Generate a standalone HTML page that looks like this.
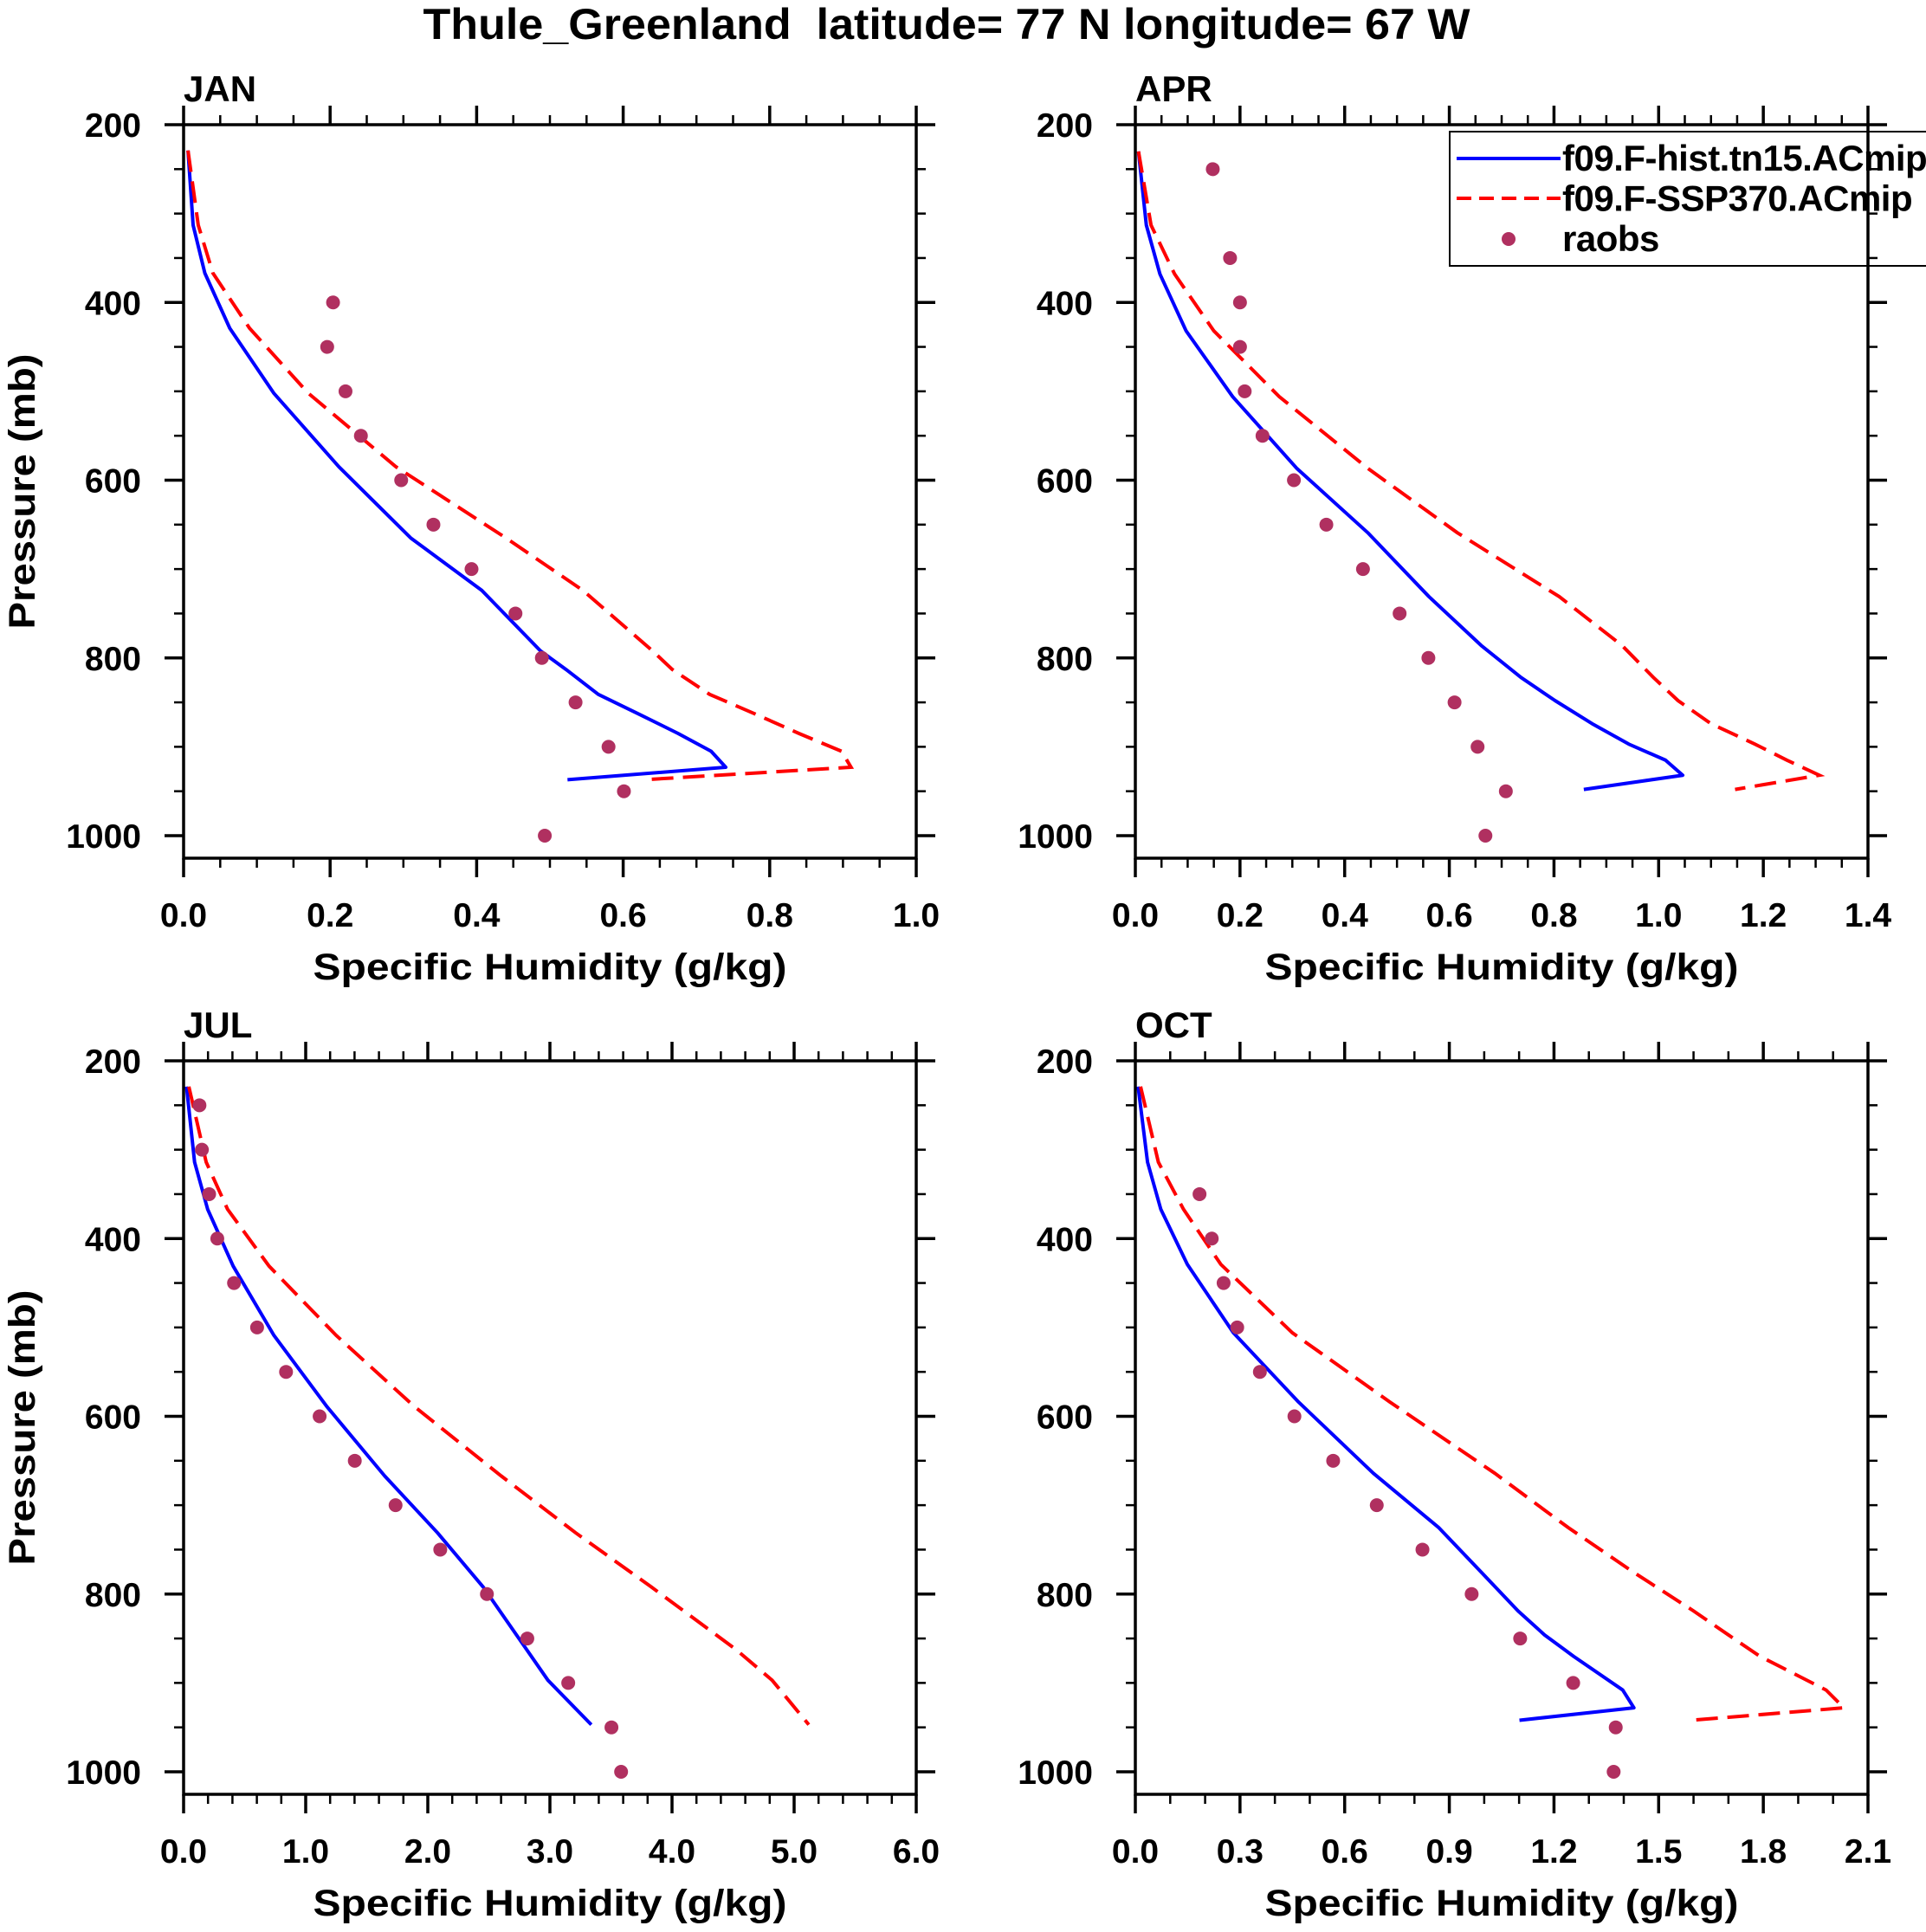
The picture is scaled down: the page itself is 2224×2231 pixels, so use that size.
<!DOCTYPE html>
<html><head><meta charset="utf-8"><style>
html,body{margin:0;padding:0;background:#fff;}
svg{display:block;font-family:"Liberation Sans",sans-serif;font-weight:bold;}
</style></head><body>
<svg id="chart" width="2224" height="2231" viewBox="0 0 2224 2231" xmlns="http://www.w3.org/2000/svg">
<text x="1093" y="45" font-size="50" text-anchor="middle" textLength="1209" lengthAdjust="spacingAndGlyphs" xml:space="preserve">Thule_Greenland  latitude= 77 N longitude= 67 W</text>
<g id="panels"></g>
</svg>
<script>
// ---- data ----
const obsLevels = [250,300,350,400,450,500,550,600,650,700,750,800,850,900,950,1000];

const janLevels = [229,313,367,429,502,585,665,724,792,813,841,863,885,905,923,937];
const janHist   = [0.006,0.013,0.029,0.063,0.123,0.212,0.31,0.407,0.487,0.522,0.566,0.621,0.675,0.72,0.74,0.524];
const janSsp    = [0.006,0.02,0.04,0.09,0.17,0.29,0.44,0.545,0.64,0.667,0.718,0.78,0.84,0.898,0.911,0.629];
const janObs    = [null,null,null,0.204,0.196,0.221,0.242,0.297,0.341,0.393,0.453,0.489,0.535,0.58,0.601,0.493];

const aprLevels = [230,313,368,432,506,587,659,731,786,822,848,874,897,915,932,948];
const aprHist   = [0.006,0.021,0.047,0.097,0.186,0.309,0.444,0.561,0.661,0.737,0.802,0.873,0.943,1.013,1.046,0.857];
const aprSsp    = [0.006,0.03,0.075,0.15,0.275,0.445,0.615,0.81,0.93,0.99,1.037,1.10,1.184,1.245,1.307,1.146];
const aprObs    = [0.148,null,0.181,0.2,0.2,0.209,0.243,0.303,0.365,0.435,0.505,0.56,0.61,0.654,0.708,0.669];

const julLevels = [229,314,367,431,509,589,667,731,792,862,897,947];
const julHist   = [0.024,0.09,0.197,0.406,0.74,1.173,1.646,2.079,2.453,2.807,2.984,3.339];
const julSsp    = [0.043,0.185,0.36,0.70,1.25,1.89,2.6,3.21,3.83,4.52,4.82,5.12];
const julObs    = [0.13,0.15,0.209,0.276,0.413,0.602,0.839,1.114,1.402,1.736,2.102,2.484,2.815,3.15,3.504,3.583];

const octLevels = [229,314,367,429,506,584,664,725,776,819,846,870,908,928,942];
const octHist   = [0.008,0.035,0.073,0.149,0.281,0.468,0.682,0.869,0.993,1.097,1.173,1.256,1.397,1.429,1.101];
const octSsp    = [0.015,0.066,0.138,0.245,0.45,0.73,1.03,1.24,1.43,1.60,1.70,1.79,1.98,2.031,1.595];
const octObs    = [null,null,0.184,0.219,0.253,0.292,0.357,0.456,0.567,0.692,0.823,0.964,1.103,1.255,1.377,1.371];

const janXTicks = ["0.0","0.2","0.4","0.6","0.8","1.0"];
const aprXTicks = ["0.0","0.2","0.4","0.6","0.8","1.0","1.2","1.4"];
const julXTicks = ["0.0","1.0","2.0","3.0","4.0","5.0","6.0"];
const octXTicks = ["0.0","0.3","0.6","0.9","1.2","1.5","1.8","2.1"];
const yTickLabels = ["200","400","600","800","1000"];

const panels = [
 {name:"jan",label:"JAN",x0:212,y0:144,xmax:1.0,major:0.2,minor:0.05,lev:janLevels,h:janHist,s:janSsp,o:janObs,ticks:janXTicks,legend:false},
 {name:"apr",label:"APR",x0:1311,y0:144,xmax:1.4,major:0.2,minor:0.05,lev:aprLevels,h:aprHist,s:aprSsp,o:aprObs,ticks:aprXTicks,legend:true},
 {name:"jul",label:"JUL",x0:212,y0:1225,xmax:6.0,major:1.0,minor:0.2,lev:julLevels,h:julHist,s:julSsp,o:julObs,ticks:julXTicks,legend:false},
 {name:"oct",label:"OCT",x0:1311,y0:1225,xmax:2.1,major:0.3,minor:0.1,lev:octLevels,h:octHist,s:octSsp,o:octObs,ticks:octXTicks,legend:false}
];

const NS="http://www.w3.org/2000/svg";
const W=846, PPM=821/800, H=Math.round(825*PPM);
const root=document.getElementById('panels');
function mk(tag,attrs,parent){const e=document.createElementNS(NS,tag);for(const k in attrs)e.setAttribute(k,attrs[k]);(parent||root).appendChild(e);return e;}

panels.forEach(P=>{
  const g=mk('g',{});
  
  
  const xs=v=>P.x0+v/P.xmax*W;
  const ys=p=>P.y0+(p-200)*PPM;
  const x1=P.x0+W, y1=P.y0+H;
  // series
  const hp=mk('polyline',{points:P.lev.map((p,i)=>xs(P.h[i])+','+ys(p)).join(' '),fill:'none',stroke:'#0000ff','stroke-width':4,'stroke-linejoin':'round'},g);
  
  
  const sp=mk('polyline',{points:P.lev.map((p,i)=>xs(P.s[i])+','+ys(p)).join(' '),fill:'none',stroke:'#ff0000','stroke-width':4,'stroke-dasharray':'25 11'},g);
  
  
  obsLevels.forEach((p,i)=>{ if(P.o[i]==null)return;
    const c=mk('circle',{cx:xs(P.o[i]),cy:ys(p),r:8,fill:'#b03060'},g);
    
    
  });
  // legend
  if(P.legend){
    const lg=mk('g',{},g);
    
    
    mk('rect',{x:1674,y:152,width:600,height:155,fill:'#fff',stroke:'#000','stroke-width':2},lg);
    mk('line',{x1:1682,y1:183,x2:1802,y2:183,stroke:'#0000ff','stroke-width':4},lg);
    mk('line',{x1:1682,y1:229,x2:1802,y2:229,stroke:'#ff0000','stroke-width':4,'stroke-dasharray':'17 9'},lg);
    mk('circle',{cx:1742,cy:276,r:8,fill:'#b03060'},lg);
    const labels=["f09.F-hist.tn15.ACmip","f09.F-SSP370.ACmip","raobs"];
    labels.forEach((t,i)=>{const tx=mk('text',{x:1804,y:197+i*46.5,'font-size':42,'letter-spacing':-0.5},lg);tx.textContent=t;
      
      });
  }
  // frame
  const fr=mk('rect',{x:P.x0,y:P.y0,width:W,height:H,fill:'none',stroke:'#000','stroke-width':3.5},g);
  
  
  // x ticks (top & bottom, outward)
  const nMin=Math.round(P.xmax/P.minor);
  const ratio=Math.round(P.major/P.minor);
  for(let k=0;k<=nMin;k++){
    const x=xs(k*P.minor), L=(k%ratio===0)?22:11, sw=(k%ratio===0)?3.5:2.5;
    mk('line',{x1:x,y1:P.y0,x2:x,y2:P.y0-L,stroke:'#000','stroke-width':sw},g);
    mk('line',{x1:x,y1:y1,x2:x,y2:y1+L,stroke:'#000','stroke-width':sw},g);
  }
  P.ticks.forEach((t,i)=>{const tx=mk('text',{x:xs(i*P.major),y:y1+79,'font-size':39,'text-anchor':'middle'},g);tx.textContent=t;
    
    });
  // y ticks (left & right, outward)
  for(let p=200;p<=1000;p+=50){
    const y=ys(p), maj=(p%200===0), L=maj?22:11, sw=maj?3.5:2.5;
    mk('line',{x1:P.x0,y1:y,x2:P.x0-L,y2:y,stroke:'#000','stroke-width':sw},g);
    mk('line',{x1:x1,y1:y,x2:x1+L,y2:y,stroke:'#000','stroke-width':sw},g);
  }
  yTickLabels.forEach(t=>{const tx=mk('text',{x:P.x0-49,y:ys(+t)+14,'font-size':39,'text-anchor':'end'},g);tx.textContent=t;
    
    });
  // titles
  const lb=mk('text',{x:P.x0,y:P.y0-27,'font-size':42},g);lb.textContent=P.label;
  
  
  const xt=mk('text',{x:P.x0+W/2,y:y1+140,'font-size':43,'text-anchor':'middle',textLength:547,lengthAdjust:'spacingAndGlyphs'},g);
  xt.textContent="Specific Humidity (g/kg)";
  
  
  if(P.x0<500){
    const cy=P.y0+H/2;
    const yt=mk('text',{x:0,y:0,'font-size':43,'text-anchor':'middle',transform:`translate(40,${cy}) rotate(-90)`,textLength:318,lengthAdjust:'spacingAndGlyphs'},g);
    yt.textContent="Pressure (mb)";
    
    
  }
});
</script>
</body></html>
